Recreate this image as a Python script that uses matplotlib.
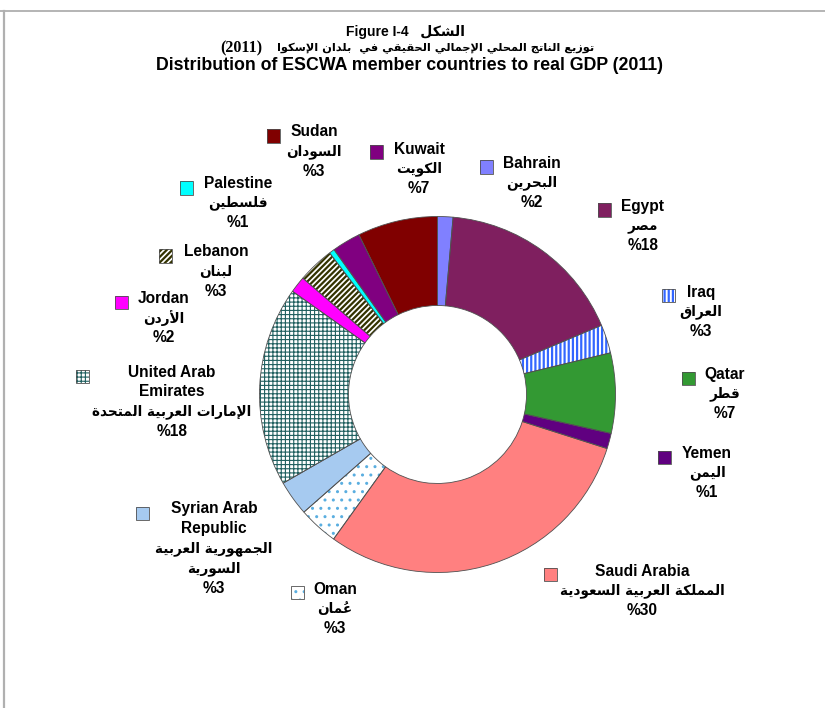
import matplotlib
matplotlib.use("Agg")
import matplotlib.pyplot as plt
from matplotlib.lines import Line2D
from matplotlib.patches import Rectangle

# ---- data (clockwise from 12 o'clock) ----
countries = ["Bahrain", "Egypt", "Iraq", "Qatar", "Yemen", "Saudi Arabia", "Oman",
             "Syrian Arab\nRepublic", "United Arab\nEmirates", "Jordan", "Lebanon",
             "Palestine", "Kuwait", "Sudan"]
arabic_names = ["البحرين", "مصر", "العراق", "قطر", "اليمن", "المملكة العربية السعودية",
                "عُمان", "الجمهورية العربية\nالسورية", "الإمارات العربية المتحدة",
                "الأردن", "لبنان", "فلسطين", "الكويت", "السودان"]
# wedge sizes as drawn in the chart (%)
shares = [1.4, 17.3, 2.6, 7.3, 1.4, 30.1, 3.6, 3.2, 18.2, 1.5, 3.3, 0.5, 2.6, 7.3]
# percentages printed in the labels
printed_pct = ["2", "18", "3", "7", "1", "30", "3", "3", "18", "2", "3", "1", "7", "3"]

fills = ['#8080ff', '#7f1f5f', 'white', '#339933', '#600080', '#ff8080', 'white',
         '#a6caf0', 'white', '#ff00ff', 'white', '#00ffff', '#800080', '#800000']
hatches = [None, None, '||||', None, None, None, '..', None, '++++', None, '//////',
           None, None, None]
hatch_colors = [None, None, '#3366ff', None, None, None, '#5aaee0', None, '#1f5f5f',
                None, '#333300', None, None, None]
hatch_widths = [None, None, 1.6, None, None, None, 1.0, None, 0.8, None, 1.6,
                None, None, None]

# label layout in pixels: (marker x, marker y, text x, first line y)
label_pos = [(486, 167, 532, 163), (604, 210, 643, 206), (668, 296, 701, 292),
             (688, 378, 725, 374), (664, 457, 707, 453), (550, 574, 642, 571),
             (297, 592, 335, 589), (142, 513, 214, 509), (82, 376, 172, 372),
             (121, 302, 164, 298), (165, 256, 216, 252), (186, 188, 238, 183),
             (376, 152, 419, 149), (273, 136, 314, 132)]

W, H = 825, 708
AR_FONT = ['DejaVu Sans']

# ---- minimal arabic shaping (matplotlib has no text shaping) ----
_blocks = ((0x0621, [1, 2, 2, 2, 2, 4, 2, 4, 2, 4, 4, 4, 4, 4, 2, 2, 2, 2, 4, 4, 4, 4, 4, 4, 4, 4]),
           (0x0641, [4, 4, 4, 4, 4, 4, 4, 2, 2, 4]))
FORMS = {}
_code = 0xFE80
for _base, _counts in _blocks:
    for _i, _n in enumerate(_counts):
        FORMS[chr(_base + _i)] = [chr(_code + k) for k in range(_n)]
        _code += _n
LAM_ALEF = {'\u0622': 0xFEF5, '\u0623': 0xFEF7, '\u0625': 0xFEF9, '\u0627': 0xFEFB}


def shape_ar(text):
    units = []
    for ch in text:
        if '\u064B' <= ch <= '\u0652' and units:
            units[-1][1] += ch
        elif ch in LAM_ALEF and units and units[-1][0] == '\u0644' and not units[-1][1]:
            c = LAM_ALEF[ch]
            units[-1] = [('LA', c), '']
        else:
            units.append([ch, ''])

    def forms(u):
        if isinstance(u, tuple):
            return [chr(u[1]), chr(u[1] + 1)]
        return FORMS.get(u)

    out = []
    for i, (b, marks) in enumerate(units):
        f = forms(b)
        if f is None:
            out.append(b + marks)
            continue
        pf = forms(units[i - 1][0]) if i > 0 else None
        nf = forms(units[i + 1][0]) if i + 1 < len(units) else None
        jp = pf is not None and len(pf) == 4
        jn = len(f) == 4 and nf is not None and len(nf) >= 2
        idx = 3 if (jp and jn) else 1 if jp else 2 if jn else 0
        # marks go before the base so they sit over it in LTR drawing
        out.append(marks + f[idx])
    return ''.join(out[::-1])


fig = plt.figure(figsize=(W / 100, H / 100), dpi=100, facecolor='white')

# frame lines
fig.add_artist(Line2D([0, 1], [1 - 11 / H, 1 - 11 / H], color='#a8a8a8', lw=1.2,
                      transform=fig.transFigure))
fig.add_artist(Line2D([3.8 / W, 3.8 / W], [0, 1 - 11 / H], color='#b0b0b0', lw=1.6,
                      transform=fig.transFigure))


def ftext(x, y, s, **kw):
    kw.setdefault('ha', 'center')
    return fig.text(x / W, 1 - y / H, s, va='center', **kw)


def style_hatch(p, h, hc, hw):
    p.set_edgecolor(hc)
    p.set_hatch(h)
    p.set_linewidth(0)
    if hasattr(p, 'set_hatch_linewidth'):
        p.set_hatch_linewidth(hw)


# titles
ftext(406, 32, "Figure I-4   " + shape_ar("الشكل"), fontsize=10, fontweight='bold',
      family=['Liberation Sans'] + AR_FONT)
ftext(241, 48, "(2011)", fontsize=11.5, fontweight='bold', family='Liberation Serif')
ftext(594, 48, shape_ar("توزيع الناتج المحلي الإجمالي الحقيقي في  بلدان الإسكوا"),
      ha='right', fontsize=8.2, fontweight='bold', family=AR_FONT)
ftext(409, 66, "Distribution of ESCWA member countries to real GDP (2011)",
      fontsize=12.8, fontweight='bold', family='Liberation Sans')

# donut
cx, cy, R = 437.5, 394.5, 178
ax = fig.add_axes([(cx - R) / W, (H - cy - R) / H, 2 * R / W, 2 * R / H])
wedges, _ = ax.pie(shares, colors=fills, startangle=90, counterclock=False,
                   radius=1, wedgeprops=dict(width=0.5, linewidth=0))
for w, h, hc, hw in zip(wedges, hatches, hatch_colors, hatch_widths):
    if h:
        style_hatch(w, h, hc, hw)
ax.pie(shares, colors=['none'] * len(shares), startangle=90, counterclock=False,
       radius=1, wedgeprops=dict(width=0.5, linewidth=0.6, edgecolor='#505050'))
ax.set_xlim(-1, 1)
ax.set_ylim(-1, 1)
ax.axis('off')

# labels with square markers
step = 19.8
for name, ar, pct, fc, h, hc, hw, (mx, my, tx, ty) in zip(
        countries, arabic_names, printed_pct, fills, hatches, hatch_colors,
        hatch_widths, label_pos):
    s = 13
    box = Rectangle(((mx - s / 2) / W, 1 - (my + s / 2) / H), s / W, s / H,
                    transform=fig.transFigure, facecolor=fc, linewidth=0)
    if h:
        style_hatch(box, h, hc, hw)
    fig.add_artist(box)
    fig.add_artist(Rectangle(((mx - s / 2) / W, 1 - (my + s / 2) / H), s / W, s / H,
                             transform=fig.transFigure, facecolor='none',
                             edgecolor='#505050', linewidth=0.6))
    y = ty
    for line in name.split('\n'):
        ftext(tx, y, line, fontsize=11.2, fontweight='bold', family='Liberation Sans')
        y += step
    for line in ar.split('\n'):
        ftext(tx, y, shape_ar(line), fontsize=9.8, fontweight='bold', family=AR_FONT)
        y += step
    ftext(tx, y, "%" + pct, fontsize=11.2, fontweight='bold', family='Liberation Sans')

fig.savefig('out.png', dpi=100, facecolor='white')
